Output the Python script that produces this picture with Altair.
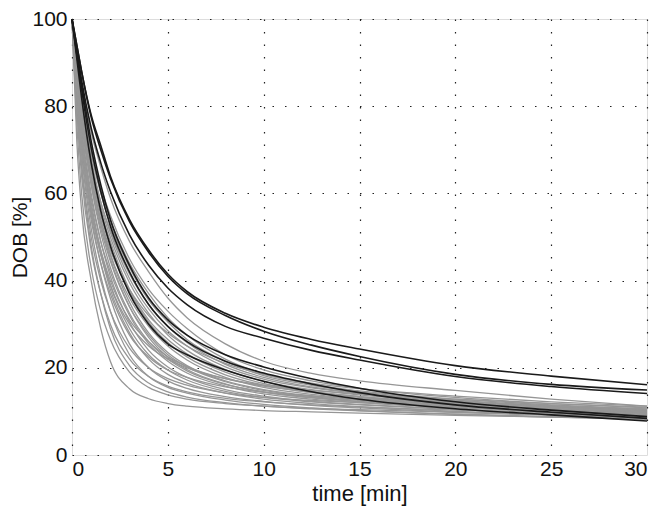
import altair as alt
import pandas as pd

t_grid = [0, 0.25, 0.5, 1, 1.5, 2, 3, 4, 5, 6, 8, 10, 12.5, 15, 20, 25, 30]

gray_curves = [
    [100, 72, 56, 40, 29, 21.5, 15.2, 12.9, 11.8, 11.2, 10.6, 10.2, 9.9, 9.6, 9.1, 8.7, 8.3],
    [100, 80, 66, 48, 37, 29, 20.5, 16.5, 14.5, 13.3, 12.0, 11.2, 10.6, 10.1, 9.3, 8.7, 8.2],
    [100, 82, 69, 52, 41, 33, 23, 18, 15.5, 14.2, 12.6, 11.6, 10.8, 10.2, 9.4, 8.8, 8.3],
    [100, 84, 72, 55, 44, 36, 25.5, 20, 17, 15.3, 13.4, 12.3, 11.4, 10.8, 9.8, 9.1, 8.5],
    [100, 83, 71, 56, 46, 38, 28, 22, 18.5, 16.5, 14.2, 12.8, 11.8, 11.1, 10.0, 9.2, 8.6],
    [100, 85, 74, 58, 47, 39, 29, 23, 19.5, 17.2, 14.6, 13.2, 12.2, 11.5, 10.4, 9.6, 8.9],
    [100, 86, 75, 60, 49, 41, 30.5, 24, 20.2, 17.8, 15.0, 13.5, 12.3, 11.6, 10.5, 9.6, 8.9],
    [100, 85, 74, 59, 49, 42, 32, 25.5, 21.5, 18.8, 15.8, 14.0, 12.8, 12.0, 10.8, 9.9, 9.2],
    [100, 87, 77, 62, 51, 43, 32.5, 26, 22, 19.3, 16.2, 14.5, 13.2, 12.3, 11.0, 10.1, 9.3],
    [100, 86, 76, 62, 52, 44.5, 34, 27.5, 23, 20.2, 16.8, 14.8, 13.4, 12.5, 11.2, 10.2, 9.5],
    [100, 88, 78, 64, 54, 46, 35, 28, 23.5, 20.5, 17.0, 15.0, 13.6, 12.7, 11.4, 10.4, 9.6],
    [100, 87, 77, 63, 53, 46, 36, 29.5, 25, 21.8, 17.8, 15.5, 13.9, 12.9, 11.5, 10.5, 9.7],
    [100, 88, 79, 65, 55, 48, 37.5, 30.5, 25.8, 22.5, 18.4, 16.0, 14.3, 13.2, 11.7, 10.6, 9.8],
    [100, 89, 80, 66, 56, 49, 38, 31, 26.5, 23.2, 19.0, 16.4, 14.6, 13.4, 11.8, 10.7, 9.9],
    [100, 88, 79, 66, 57, 50, 39.5, 32.5, 27.5, 24, 19.6, 16.9, 15.0, 13.8, 12.1, 11.0, 10.1],
    [100, 90, 81, 68, 58, 51, 40.5, 33.5, 28.5, 25, 20.2, 17.4, 15.4, 14.1, 12.3, 11.1, 10.2],
    [100, 89, 80, 67, 58, 51.5, 41.5, 34.5, 29.5, 25.8, 20.8, 17.8, 15.6, 14.2, 12.4, 11.2, 10.3],
    [100, 90, 82, 69, 60, 53, 43, 35.5, 30.5, 26.5, 21.5, 18.2, 16.0, 14.5, 12.6, 11.3, 10.4],
    [100, 91, 83, 70, 61, 54, 44, 37, 31.5, 27.5, 22.0, 18.6, 16.2, 14.7, 12.8, 11.5, 10.5],
    [100, 90, 82, 70, 61.5, 55, 45, 38, 33, 29, 23, 19.5, 17.0, 15.3, 13.2, 11.8, 10.8],
    [100, 84, 72, 56, 46, 39, 30, 25, 22, 20, 17.5, 16.0, 14.8, 14.0, 12.8, 11.8, 11.0],
    [100, 83, 70, 54, 44, 37, 27.5, 22.5, 19.5, 17.8, 15.6, 14.4, 13.5, 12.9, 12.0, 11.2, 10.6],
    [100, 81, 67, 50, 40, 33, 24.5, 20, 17.5, 16.0, 14.2, 13.2, 12.5, 12.0, 11.1, 10.5, 9.9],
    [100, 79, 64, 47, 37, 30, 22, 18, 15.8, 14.5, 13.0, 12.2, 11.5, 11.0, 10.3, 9.7, 9.2],
    [100, 87, 77, 63, 54, 47, 38, 32, 28, 25, 21, 18.5, 16.5, 15.2, 13.5, 12.2, 11.2],
    [100, 76, 60, 43, 33, 26.5, 19, 15.5, 13.8, 12.8, 11.8, 11.2, 10.7, 10.4, 9.8, 9.3, 8.9],
    [100, 85, 73, 57, 47, 40, 31, 26, 22.5, 20.3, 17.5, 15.8, 14.4, 13.4, 12.0, 10.9, 10.0],
    [100, 88, 78, 63, 53, 45, 34, 27, 22.5, 19.6, 16.3, 14.4, 13.1, 12.2, 10.9, 9.9, 9.1],
    [100, 92, 85, 74, 66, 59, 49, 42, 36, 31.5, 25.5, 21.5, 18.7, 17.0, 14.8, 12.8, 11.2],
]

black_curves = [
    [100, 94, 88, 78, 71, 64, 54, 47, 41.5, 37.5, 32.5, 29.3, 26.5, 24.3, 20.5, 18.1, 16.1],
    [100, 94, 88, 77.5, 70, 63.5, 53.5, 46.5, 41, 37, 32, 28.4, 25.2, 22.6, 18.5, 16.2, 14.9],
    [100, 93, 86, 75, 67, 60.5, 50.5, 43.5, 38.3, 34.5, 29.5, 26.8, 24, 21.8, 18, 15.7, 14.1],
    [100, 92, 85, 72, 62, 54, 43.5, 36, 31, 27.5, 23, 20.2, 17.5, 15.3, 12.2, 10.3, 8.8],
    [100, 92, 84, 70.5, 60.5, 52.5, 42, 34.5, 29.5, 26, 21.5, 18.8, 16.3, 14.3, 11.5, 9.8, 8.4],
    [100, 91, 82, 67, 56, 48, 37, 30, 25.5, 23, 19.5, 16.9, 14.5, 12.8, 10.6, 9.2, 7.8],
]

rows = []
for i, c in enumerate(gray_curves):
    for t, v in zip(t_grid, c):
        rows.append({"t": t, "v": v, "id": f"g{i}", "grp": "gray"})
for i, c in enumerate(black_curves):
    for t, v in zip(t_grid, c):
        rows.append({"t": t, "v": v, "id": f"b{i}", "grp": "black"})
df = pd.DataFrame(rows)

FONT = "Liberation Sans"
FS = 21

x = alt.X("t:Q", scale=alt.Scale(domain=[0, 30], nice=False),
          axis=alt.Axis(title="time [min]", values=[0, 5, 10, 15, 20, 25, 30],
                        grid=True, gridDash=[1.5, 11], gridColor="#222", gridWidth=1.2,
                        ticks=False, domain=False, labelPadding=3, titlePadding=4,
                        labelFontSize=FS, titleFontSize=22, labelFont=FONT, titleFont=FONT,
                        titleFontWeight="normal", labelColor="#111", titleColor="#111"))
y = alt.Y("v:Q", scale=alt.Scale(domain=[0, 100], nice=False),
          axis=alt.Axis(title="DOB [%]", values=[0, 20, 40, 60, 80, 100],
                        grid=True, gridDash=[1.5, 11], gridColor="#222", gridWidth=1.2,
                        ticks=False, domain=False, labelPadding=5, titlePadding=1,
                        labelFontSize=FS, titleFontSize=FS, labelFont=FONT, titleFont=FONT,
                        titleFontWeight="normal", labelColor="#111", titleColor="#111"))

gray = alt.Chart(df).transform_filter(alt.datum.grp == "gray").mark_line(
    interpolate="monotone", strokeWidth=1.3, color="#969696"
).encode(x=x, y=y, detail="id:N")

black = alt.Chart(df).transform_filter(alt.datum.grp == "black").mark_line(
    interpolate="monotone", strokeWidth=1.6, color="#1a1a1a"
).encode(x=x, y=y, detail="id:N")

chart = alt.layer(gray, black).properties(
    width=575, height=436,
    autosize=alt.AutoSizeParams(type="none"),
    padding={"left": 64, "right": 9, "top": 11, "bottom": 52},
).configure_view(
    stroke="#222", strokeWidth=1.5
).configure(background="white")

chart.save("out.html", embed_options={"renderer": "svg", "actions": False})
